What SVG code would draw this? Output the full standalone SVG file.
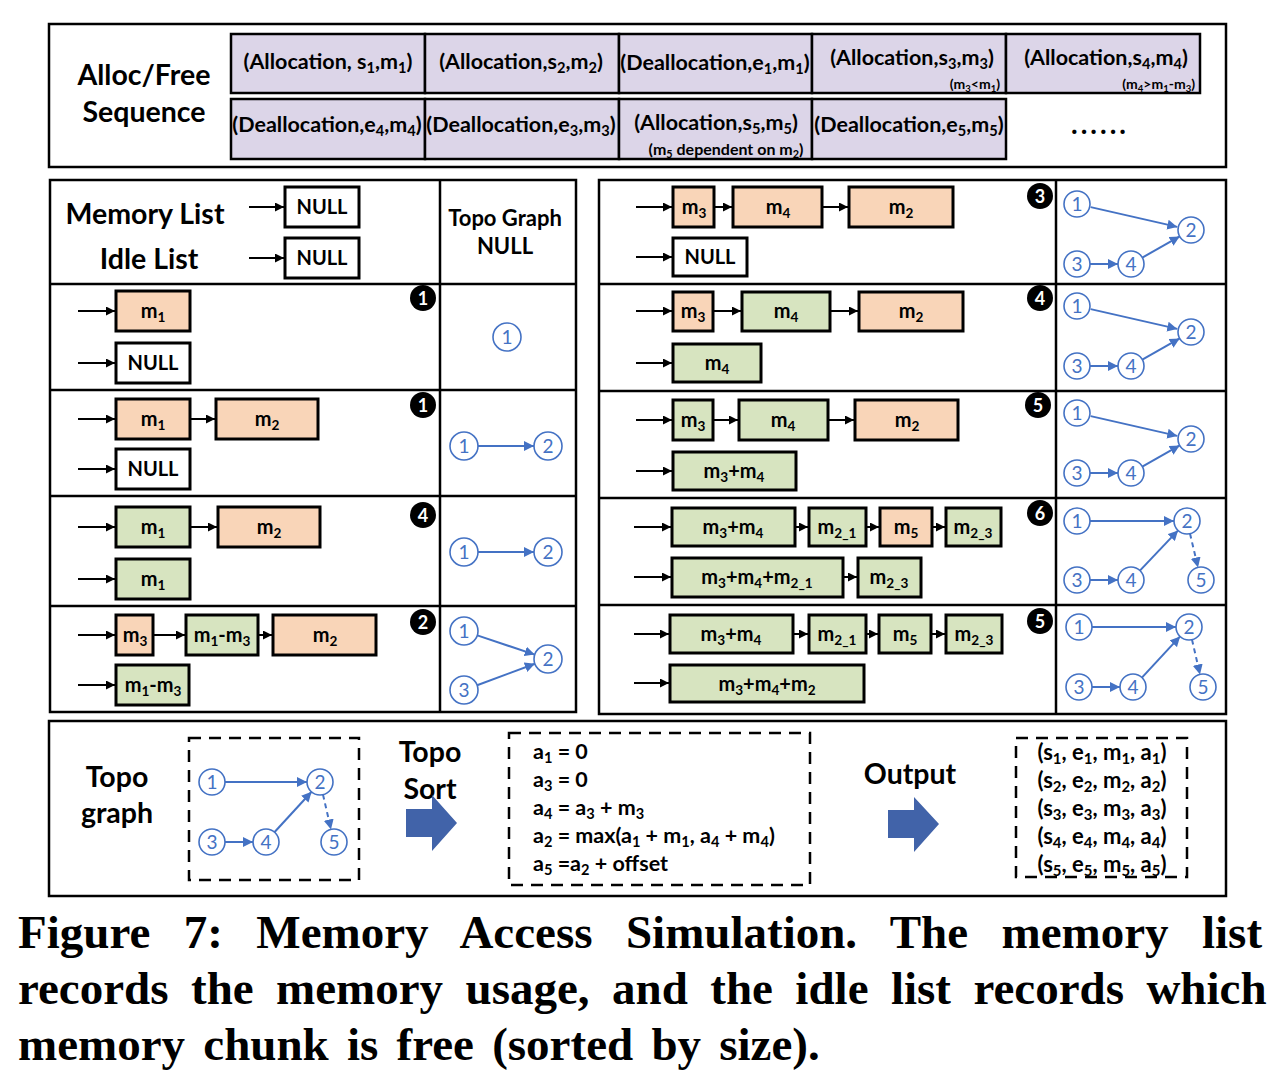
<svg xmlns="http://www.w3.org/2000/svg" width="1280" height="1078" viewBox="0 0 1280 1078">
<style>
.t{font-family:Lato,"Open Sans",sans-serif;font-weight:bold;fill:#000}
.seq{font-size:21.5px;text-anchor:middle}
.note{font-size:14px;text-anchor:end}
.s{font-size:68%}
.cell{fill:#DCD5E8;stroke:#000;stroke-width:2.5}
.frame{fill:none;stroke:#000;stroke-width:2.5}
.div{stroke:#000;stroke-width:2.5}
.box{stroke:#000;stroke-width:3}
.or{fill:#F9D5B8}.gr{fill:#D7E4C0}.wh{fill:#fff}
.lbl{font-size:20px;text-anchor:middle}
.big{font-size:28.5px;text-anchor:middle}
.ar{stroke:#000;stroke-width:2;marker-end:url(#ah)}
.gn{fill:#fff;stroke:#4472C4;stroke-width:1.6}
.gt{font-family:Lato,"Open Sans",sans-serif;font-size:19px;fill:#4472C4;text-anchor:middle}
.ge{stroke:#4472C4;stroke-width:2;fill:none;marker-end:url(#bh)}
.gd{stroke-dasharray:5 4}
.bc{fill:#000}
.bt{font-family:Lato,sans-serif;font-weight:bold;font-size:18px;fill:#fff;text-anchor:middle}
.dash{fill:none;stroke:#000;stroke-width:2.5;stroke-dasharray:12 8}
.blk{fill:#4163A9}
.eq{font-size:21.5px}
.cap{font-family:"Liberation Serif","Times New Roman",serif;font-weight:bold;font-size:47px;fill:#000}
</style>
<defs>
<marker id="ah" viewBox="0 0 10 10" refX="10" refY="5" markerWidth="9" markerHeight="9" markerUnits="userSpaceOnUse" orient="auto"><path d="M0,0L10,5L0,10z" fill="#000"/></marker>
<marker id="bh" viewBox="0 0 10 10" refX="10" refY="5" markerWidth="10" markerHeight="10" markerUnits="userSpaceOnUse" orient="auto"><path d="M0,0L10,5L0,10z" fill="#4472C4"/></marker>
</defs>
<rect width="1280" height="1078" fill="#fff"/>

<!-- Top: Alloc/Free sequence -->
<g id="sequence">
<rect class="frame" x="49" y="24" width="1177" height="143"/>
<text class="t big" x="144" y="85">Alloc/Free</text>
<text class="t big" x="144" y="122">Sequence</text>
<g id="seq1"><rect class="cell" x="231" y="34" width="194" height="59"/><text class="t seq" x="328" y="69">(Allocation, s<tspan class="s" dy="4">1</tspan><tspan dy="-4">,m</tspan><tspan class="s" dy="4">1</tspan><tspan dy="-4">)</tspan></text></g>
<g id="seq2"><rect class="cell" x="425" y="34" width="194" height="59"/><text class="t seq" x="521" y="69">(Allocation,s<tspan class="s" dy="4">2</tspan><tspan dy="-4">,m</tspan><tspan class="s" dy="4">2</tspan><tspan dy="-4">)</tspan></text></g>
<g id="seq3"><rect class="cell" x="619" y="34" width="193" height="59"/><text class="t seq" x="715" y="70">(Deallocation,e<tspan class="s" dy="4">1</tspan><tspan dy="-4">,m</tspan><tspan class="s" dy="4">1</tspan><tspan dy="-4">)</tspan></text></g>
<g id="seq4"><rect class="cell" x="812" y="34" width="194" height="59"/><text class="t seq" x="912" y="65">(Allocation,s<tspan class="s" dy="4">3</tspan><tspan dy="-4">,m</tspan><tspan class="s" dy="4">3</tspan><tspan dy="-4">)</tspan></text><text class="t note" x="1000" y="89">(m<tspan class="s" dy="3">3</tspan><tspan dy="-3">&lt;m</tspan><tspan class="s" dy="3">1</tspan><tspan dy="-3">)</tspan></text></g>
<g id="seq5"><rect class="cell" x="1006" y="34" width="194" height="59"/><text class="t seq" x="1106" y="65">(Allocation,s<tspan class="s" dy="4">4</tspan><tspan dy="-4">,m</tspan><tspan class="s" dy="4">4</tspan><tspan dy="-4">)</tspan></text><text class="t note" x="1195" y="89">(m<tspan class="s" dy="3">4</tspan><tspan dy="-3">&gt;m</tspan><tspan class="s" dy="3">1</tspan><tspan dy="-3">-m</tspan><tspan class="s" dy="3">3</tspan><tspan dy="-3">)</tspan></text></g>
<g id="seq6"><rect class="cell" x="231" y="99" width="194" height="60"/><text class="t seq" x="327" y="132">(Deallocation,e<tspan class="s" dy="4">4</tspan><tspan dy="-4">,m</tspan><tspan class="s" dy="4">4</tspan><tspan dy="-4">)</tspan></text></g>
<g id="seq7"><rect class="cell" x="425" y="99" width="194" height="60"/><text class="t seq" x="521" y="132">(Deallocation,e<tspan class="s" dy="4">3</tspan><tspan dy="-4">,m</tspan><tspan class="s" dy="4">3</tspan><tspan dy="-4">)</tspan></text></g>
<g id="seq8"><rect class="cell" x="619" y="99" width="193" height="60"/><text class="t seq" x="716" y="130">(Allocation,s<tspan class="s" dy="4">5</tspan><tspan dy="-4">,m</tspan><tspan class="s" dy="4">5</tspan><tspan dy="-4">)</tspan></text><text class="t" font-size="16" text-anchor="middle" x="726" y="155">(m<tspan class="s" dy="3">5</tspan><tspan dy="-3"> dependent on m</tspan><tspan class="s" dy="3">2</tspan><tspan dy="-3">)</tspan></text></g>
<g id="seq9"><rect class="cell" x="812" y="99" width="194" height="60"/><text class="t seq" x="909" y="132">(Deallocation,e<tspan class="s" dy="4">5</tspan><tspan dy="-4">,m</tspan><tspan class="s" dy="4">5</tspan><tspan dy="-4">)</tspan></text></g>
<text class="t" font-size="28" letter-spacing="3" text-anchor="middle" x="1100" y="134">......</text>
</g>

<!-- Left panel frame -->
<g id="left-panel">
<rect class="frame" x="50" y="180" width="526" height="532"/>
<line class="div" x1="440" y1="180" x2="440" y2="712"/>
<line class="div" x1="50" y1="284" x2="576" y2="284"/>
<line class="div" x1="50" y1="390" x2="576" y2="390"/>
<line class="div" x1="50" y1="496" x2="576" y2="496"/>
<line class="div" x1="50" y1="606" x2="576" y2="606"/>
<text class="t big" x="145" y="224">Memory List</text>
<text class="t big" x="149" y="269">Idle List</text>
<text class="t" font-size="22" text-anchor="middle" x="505" y="226">Topo Graph</text>
<text class="t" font-size="22" text-anchor="middle" x="505" y="254">NULL</text>
</g>

<!-- Right panel frame -->
<g id="right-panel">
<rect class="frame" x="599" y="180" width="627" height="534"/>
<line class="div" x1="1056" y1="180" x2="1056" y2="714"/>
<line class="div" x1="599" y1="284" x2="1226" y2="284"/>
<line class="div" x1="599" y1="391" x2="1226" y2="391"/>
<line class="div" x1="599" y1="498" x2="1226" y2="498"/>
<line class="div" x1="599" y1="605" x2="1226" y2="605"/>
</g>

<!-- Connectors (list pointers) -->
<g id="connectors">
<line class="ar" x1="249" y1="207" x2="284" y2="207"/>
<line class="ar" x1="249" y1="258" x2="284" y2="258"/>
<line class="ar" x1="78" y1="311" x2="115" y2="311"/>
<line class="ar" x1="78" y1="363" x2="115" y2="363"/>
<line class="ar" x1="78" y1="419" x2="115" y2="419"/>
<line class="ar" x1="190" y1="419" x2="215" y2="419"/>
<line class="ar" x1="78" y1="469" x2="115" y2="469"/>
<line class="ar" x1="78" y1="527" x2="115" y2="527"/>
<line class="ar" x1="190" y1="527" x2="217" y2="527"/>
<line class="ar" x1="78" y1="579" x2="115" y2="579"/>
<line class="ar" x1="78" y1="635" x2="115" y2="635"/>
<line class="ar" x1="153" y1="635" x2="185" y2="635"/>
<line class="ar" x1="258" y1="635" x2="272" y2="635"/>
<line class="ar" x1="78" y1="685" x2="115" y2="685"/>
<line class="ar" x1="636" y1="207" x2="672" y2="207"/>
<line class="ar" x1="714" y1="207" x2="732" y2="207"/>
<line class="ar" x1="822" y1="207" x2="848" y2="207"/>
<line class="ar" x1="636" y1="257" x2="672" y2="257"/>
<line class="ar" x1="636" y1="311" x2="672" y2="311"/>
<line class="ar" x1="713" y1="311" x2="741" y2="311"/>
<line class="ar" x1="830" y1="311" x2="858" y2="311"/>
<line class="ar" x1="636" y1="363" x2="672" y2="363"/>
<line class="ar" x1="636" y1="420" x2="672" y2="420"/>
<line class="ar" x1="713" y1="420" x2="738" y2="420"/>
<line class="ar" x1="828" y1="420" x2="854" y2="420"/>
<line class="ar" x1="636" y1="471" x2="672" y2="471"/>
<line class="ar" x1="634" y1="527" x2="671" y2="527"/>
<line class="ar" x1="795" y1="527" x2="808" y2="527"/>
<line class="ar" x1="866" y1="527" x2="879" y2="527"/>
<line class="ar" x1="932" y1="527" x2="945" y2="527"/>
<line class="ar" x1="634" y1="577" x2="671" y2="577"/>
<line class="ar" x1="843" y1="577" x2="857" y2="577"/>
<line class="ar" x1="634" y1="634" x2="669" y2="634"/>
<line class="ar" x1="793" y1="634" x2="808" y2="634"/>
<line class="ar" x1="866" y1="634" x2="878" y2="634"/>
<line class="ar" x1="931" y1="634" x2="945" y2="634"/>
<line class="ar" x1="634" y1="683" x2="669" y2="683"/>
</g>

<!-- Header NULL boxes -->
<g id="mem-null"><rect class="box wh" x="285" y="187" width="74" height="40"/><text class="t lbl" x="322" y="214">NULL</text></g>
<g id="idle-null"><rect class="box wh" x="285" y="238" width="74" height="40"/><text class="t lbl" x="322" y="265">NULL</text></g>

<!-- Left row 1 -->
<g id="L1-m1"><rect class="box or" x="116" y="291" width="74" height="40"/><text class="t lbl" x="153" y="318">m<tspan class="s" dy="4">1</tspan></text></g>
<g id="L1-null"><rect class="box wh" x="116" y="343" width="74" height="40"/><text class="t lbl" x="153" y="370">NULL</text></g>
<!-- Left row 2 -->
<g id="L2-m1"><rect class="box or" x="116" y="399" width="74" height="40"/><text class="t lbl" x="153" y="426">m<tspan class="s" dy="4">1</tspan></text></g>
<g id="L2-m2"><rect class="box or" x="216" y="399" width="102" height="40"/><text class="t lbl" x="267" y="426">m<tspan class="s" dy="4">2</tspan></text></g>
<g id="L2-null"><rect class="box wh" x="116" y="449" width="74" height="40"/><text class="t lbl" x="153" y="476">NULL</text></g>
<!-- Left row 3 -->
<g id="L3-m1"><rect class="box gr" x="116" y="507" width="74" height="40"/><text class="t lbl" x="153" y="534">m<tspan class="s" dy="4">1</tspan></text></g>
<g id="L3-m2"><rect class="box or" x="218" y="507" width="102" height="40"/><text class="t lbl" x="269" y="534">m<tspan class="s" dy="4">2</tspan></text></g>
<g id="L3-idle"><rect class="box gr" x="116" y="559" width="74" height="40"/><text class="t lbl" x="153" y="586">m<tspan class="s" dy="4">1</tspan></text></g>
<!-- Left row 4 -->
<g id="L4-m3"><rect class="box or" x="116" y="615" width="37" height="40"/><text class="t lbl" x="135" y="642">m<tspan class="s" dy="4">3</tspan></text></g>
<g id="L4-m1m3"><rect class="box gr" x="186" y="615" width="72" height="40"/><text class="t lbl" x="222" y="642">m<tspan class="s" dy="4">1</tspan><tspan dy="-4">-m</tspan><tspan class="s" dy="4">3</tspan></text></g>
<g id="L4-m2"><rect class="box or" x="273" y="615" width="103" height="40"/><text class="t lbl" x="325" y="642">m<tspan class="s" dy="4">2</tspan></text></g>
<g id="L4-idle"><rect class="box gr" x="116" y="665" width="73" height="40"/><text class="t lbl" x="153" y="692">m<tspan class="s" dy="4">1</tspan><tspan dy="-4">-m</tspan><tspan class="s" dy="4">3</tspan></text></g>

<!-- Right row A -->
<g id="RA-m3"><rect class="box or" x="673" y="187" width="41" height="40"/><text class="t lbl" x="694" y="214">m<tspan class="s" dy="4">3</tspan></text></g>
<g id="RA-m4"><rect class="box or" x="733" y="187" width="89" height="40"/><text class="t lbl" x="778" y="214">m<tspan class="s" dy="4">4</tspan></text></g>
<g id="RA-m2"><rect class="box or" x="849" y="187" width="104" height="40"/><text class="t lbl" x="901" y="214">m<tspan class="s" dy="4">2</tspan></text></g>
<g id="RA-null"><rect class="box wh" x="673" y="238" width="74" height="38"/><text class="t lbl" x="710" y="264">NULL</text></g>
<!-- Right row B -->
<g id="RB-m3"><rect class="box or" x="673" y="292" width="40" height="39"/><text class="t lbl" x="693" y="318">m<tspan class="s" dy="4">3</tspan></text></g>
<g id="RB-m4"><rect class="box gr" x="742" y="292" width="88" height="39"/><text class="t lbl" x="786" y="318">m<tspan class="s" dy="4">4</tspan></text></g>
<g id="RB-m2"><rect class="box or" x="859" y="292" width="104" height="39"/><text class="t lbl" x="911" y="318">m<tspan class="s" dy="4">2</tspan></text></g>
<g id="RB-idle"><rect class="box gr" x="673" y="344" width="88" height="38"/><text class="t lbl" x="717" y="370">m<tspan class="s" dy="4">4</tspan></text></g>
<!-- Right row C -->
<g id="RC-m3"><rect class="box gr" x="673" y="400" width="40" height="40"/><text class="t lbl" x="693" y="427">m<tspan class="s" dy="4">3</tspan></text></g>
<g id="RC-m4"><rect class="box gr" x="739" y="400" width="89" height="40"/><text class="t lbl" x="783" y="427">m<tspan class="s" dy="4">4</tspan></text></g>
<g id="RC-m2"><rect class="box or" x="855" y="400" width="103" height="40"/><text class="t lbl" x="907" y="427">m<tspan class="s" dy="4">2</tspan></text></g>
<g id="RC-idle"><rect class="box gr" x="673" y="452" width="123" height="38"/><text class="t lbl" x="734" y="478">m<tspan class="s" dy="4">3</tspan><tspan dy="-4">+m</tspan><tspan class="s" dy="4">4</tspan></text></g>
<!-- Right row D -->
<g id="RD-m34"><rect class="box gr" x="672" y="508" width="123" height="38"/><text class="t lbl" x="733" y="534">m<tspan class="s" dy="4">3</tspan><tspan dy="-4">+m</tspan><tspan class="s" dy="4">4</tspan></text></g>
<g id="RD-m21"><rect class="box gr" x="809" y="508" width="57" height="38"/><text class="t lbl" x="837" y="534">m<tspan class="s" dy="4">2_1</tspan></text></g>
<g id="RD-m5"><rect class="box or" x="880" y="508" width="52" height="38"/><text class="t lbl" x="906" y="534">m<tspan class="s" dy="4">5</tspan></text></g>
<g id="RD-m23"><rect class="box gr" x="946" y="508" width="55" height="38"/><text class="t lbl" x="973" y="534">m<tspan class="s" dy="4">2_3</tspan></text></g>
<g id="RD-idle1"><rect class="box gr" x="672" y="558" width="171" height="39"/><text class="t lbl" x="757" y="584">m<tspan class="s" dy="4">3</tspan><tspan dy="-4">+m</tspan><tspan class="s" dy="4">4</tspan><tspan dy="-4">+m</tspan><tspan class="s" dy="4">2_1</tspan></text></g>
<g id="RD-idle2"><rect class="box gr" x="858" y="558" width="63" height="39"/><text class="t lbl" x="889" y="584">m<tspan class="s" dy="4">2_3</tspan></text></g>
<!-- Right row E -->
<g id="RE-m34"><rect class="box gr" x="670" y="615" width="123" height="38"/><text class="t lbl" x="731" y="641">m<tspan class="s" dy="4">3</tspan><tspan dy="-4">+m</tspan><tspan class="s" dy="4">4</tspan></text></g>
<g id="RE-m21"><rect class="box gr" x="809" y="615" width="57" height="38"/><text class="t lbl" x="837" y="641">m<tspan class="s" dy="4">2_1</tspan></text></g>
<g id="RE-m5"><rect class="box gr" x="879" y="615" width="52" height="38"/><text class="t lbl" x="905" y="641">m<tspan class="s" dy="4">5</tspan></text></g>
<g id="RE-m23"><rect class="box gr" x="946" y="615" width="56" height="38"/><text class="t lbl" x="974" y="641">m<tspan class="s" dy="4">2_3</tspan></text></g>
<g id="RE-idle"><rect class="box gr" x="670" y="665" width="194" height="37"/><text class="t lbl" x="767" y="691">m<tspan class="s" dy="4">3</tspan><tspan dy="-4">+m</tspan><tspan class="s" dy="4">4</tspan><tspan dy="-4">+m</tspan><tspan class="s" dy="4">2</tspan></text></g>

<!-- Badges -->
<g id="badges">
<circle class="bc" cx="423" cy="298" r="13"/><text class="bt" x="423" y="305">1</text>
<circle class="bc" cx="423" cy="405" r="13"/><text class="bt" x="423" y="412">1</text>
<circle class="bc" cx="423" cy="515" r="13"/><text class="bt" x="423" y="522">4</text>
<circle class="bc" cx="423" cy="622" r="13"/><text class="bt" x="423" y="629">2</text>
<circle class="bc" cx="1040" cy="196" r="13"/><text class="bt" x="1040" y="203">3</text>
<circle class="bc" cx="1040" cy="298" r="13"/><text class="bt" x="1040" y="305">4</text>
<circle class="bc" cx="1038" cy="405" r="13"/><text class="bt" x="1038" y="412">5</text>
<circle class="bc" cx="1040" cy="513" r="13"/><text class="bt" x="1040" y="520">6</text>
<circle class="bc" cx="1040" cy="621" r="13"/><text class="bt" x="1040" y="628">5</text>
</g>

<!-- Topo graphs (left) -->
<g id="TG-L1"><circle class="gn" cx="507" cy="337" r="14"/><text class="gt" x="507" y="344">1</text></g>
<g id="TG-L2">
<line class="ge" x1="478" y1="446" x2="534" y2="446"/>
<circle class="gn" cx="464" cy="446" r="14"/><text class="gt" x="464" y="453">1</text>
<circle class="gn" cx="548" cy="446" r="14"/><text class="gt" x="548" y="453">2</text>
</g>
<g id="TG-L3">
<line class="ge" x1="478" y1="552" x2="534" y2="552"/>
<circle class="gn" cx="464" cy="552" r="14"/><text class="gt" x="464" y="559">1</text>
<circle class="gn" cx="548" cy="552" r="14"/><text class="gt" x="548" y="559">2</text>
</g>
<g id="TG-L4">
<line class="ge" x1="477.3" y1="635.4" x2="534.7" y2="654.6"/>
<line class="ge" x1="477.1" y1="685.2" x2="534.9" y2="663.8"/>
<circle class="gn" cx="464" cy="631" r="14"/><text class="gt" x="464" y="638">1</text>
<circle class="gn" cx="464" cy="690" r="14"/><text class="gt" x="464" y="697">3</text>
<circle class="gn" cx="548" cy="659" r="14"/><text class="gt" x="548" y="666">2</text>
</g>

<!-- Topo graphs (right) 4 nodes -->
<g id="TG-RA" transform="translate(1077,204)">
<line class="ge" x1="13.7" y1="3.1" x2="100.3" y2="22.9"/>
<line class="ge" x1="13" y1="60" x2="41" y2="60"/>
<line class="ge" x1="65.3" y1="53.6" x2="102.7" y2="32.4"/>
<circle class="gn" cx="0" cy="0" r="13"/><text class="gt" x="0" y="7">1</text>
<circle class="gn" cx="114" cy="26" r="13"/><text class="gt" x="114" y="33">2</text>
<circle class="gn" cx="0" cy="60" r="13"/><text class="gt" x="0" y="67">3</text>
<circle class="gn" cx="54" cy="60" r="13"/><text class="gt" x="54" y="67">4</text>
</g>
<g id="TG-RB" transform="translate(1077,306)">
<line class="ge" x1="13.7" y1="3.1" x2="100.3" y2="22.9"/>
<line class="ge" x1="13" y1="60" x2="41" y2="60"/>
<line class="ge" x1="65.3" y1="53.6" x2="102.7" y2="32.4"/>
<circle class="gn" cx="0" cy="0" r="13"/><text class="gt" x="0" y="7">1</text>
<circle class="gn" cx="114" cy="26" r="13"/><text class="gt" x="114" y="33">2</text>
<circle class="gn" cx="0" cy="60" r="13"/><text class="gt" x="0" y="67">3</text>
<circle class="gn" cx="54" cy="60" r="13"/><text class="gt" x="54" y="67">4</text>
</g>
<g id="TG-RC" transform="translate(1077,413)">
<line class="ge" x1="13.7" y1="3.1" x2="100.3" y2="22.9"/>
<line class="ge" x1="13" y1="60" x2="41" y2="60"/>
<line class="ge" x1="65.3" y1="53.6" x2="102.7" y2="32.4"/>
<circle class="gn" cx="0" cy="0" r="13"/><text class="gt" x="0" y="7">1</text>
<circle class="gn" cx="114" cy="26" r="13"/><text class="gt" x="114" y="33">2</text>
<circle class="gn" cx="0" cy="60" r="13"/><text class="gt" x="0" y="67">3</text>
<circle class="gn" cx="54" cy="60" r="13"/><text class="gt" x="54" y="67">4</text>
</g>
<!-- 5 nodes -->
<g id="TG-RD" transform="translate(1077,521)">
<line class="ge" x1="13" y1="0" x2="97" y2="0"/>
<line class="ge" x1="13" y1="59" x2="41" y2="59"/>
<line class="ge" x1="62.9" y1="49.6" x2="101.1" y2="9.4"/>
<line class="ge gd" x1="113" y1="12.6" x2="121" y2="46.4"/>
<circle class="gn" cx="0" cy="0" r="13"/><text class="gt" x="0" y="7">1</text>
<circle class="gn" cx="110" cy="0" r="13"/><text class="gt" x="110" y="7">2</text>
<circle class="gn" cx="0" cy="59" r="13"/><text class="gt" x="0" y="66">3</text>
<circle class="gn" cx="54" cy="59" r="13"/><text class="gt" x="54" y="66">4</text>
<circle class="gn" cx="124" cy="59" r="13"/><text class="gt" x="124" y="66">5</text>
</g>
<g id="TG-RE" transform="translate(1079,627)">
<line class="ge" x1="13" y1="0" x2="97" y2="0"/>
<line class="ge" x1="13" y1="60" x2="41" y2="60"/>
<line class="ge" x1="62.9" y1="50.6" x2="101.1" y2="9.4"/>
<line class="ge gd" x1="113" y1="12.6" x2="121" y2="47.4"/>
<circle class="gn" cx="0" cy="0" r="13"/><text class="gt" x="0" y="7">1</text>
<circle class="gn" cx="110" cy="0" r="13"/><text class="gt" x="110" y="7">2</text>
<circle class="gn" cx="0" cy="60" r="13"/><text class="gt" x="0" y="67">3</text>
<circle class="gn" cx="54" cy="60" r="13"/><text class="gt" x="54" y="67">4</text>
<circle class="gn" cx="124" cy="60" r="13"/><text class="gt" x="124" y="67">5</text>
</g>

<!-- Bottom section -->
<g id="bottom">
<rect class="frame" x="49" y="721" width="1177" height="175"/>
<text class="t big" x="117" y="787">Topo</text>
<text class="t big" x="117" y="823">graph</text>
<rect class="dash" x="189" y="738" width="170" height="142"/>
<g id="TG-final" transform="translate(212,782)">
<line class="ge" x1="13" y1="0" x2="95" y2="0"/>
<line class="ge" x1="13" y1="60" x2="41" y2="60"/>
<line class="ge" x1="62.4" y1="50.2" x2="99.6" y2="9.8"/>
<line class="ge gd" x1="111" y1="12.6" x2="119" y2="47.4"/>
<circle class="gn" cx="0" cy="0" r="13"/><text class="gt" x="0" y="7">1</text>
<circle class="gn" cx="108" cy="0" r="13"/><text class="gt" x="108" y="7">2</text>
<circle class="gn" cx="0" cy="60" r="13"/><text class="gt" x="0" y="67">3</text>
<circle class="gn" cx="54" cy="60" r="13"/><text class="gt" x="54" y="67">4</text>
<circle class="gn" cx="122" cy="60" r="13"/><text class="gt" x="122" y="67">5</text>
</g>
<text class="t big" x="430" y="762">Topo</text>
<text class="t big" x="430" y="799">Sort</text>
<polygon class="blk" points="406,809 432,809 432,795 457,823 432,851 432,837 406,837"/>
<rect class="dash" x="509" y="733" width="301" height="152"/>
<g class="t eq">
<text x="533" y="759">a<tspan class="s" dy="4">1</tspan><tspan dy="-4"> = 0</tspan></text>
<text x="533" y="787">a<tspan class="s" dy="4">3</tspan><tspan dy="-4"> = 0</tspan></text>
<text x="533" y="815">a<tspan class="s" dy="4">4</tspan><tspan dy="-4"> = a</tspan><tspan class="s" dy="4">3</tspan><tspan dy="-4"> + m</tspan><tspan class="s" dy="4">3</tspan></text>
<text x="533" y="843">a<tspan class="s" dy="4">2</tspan><tspan dy="-4"> = max(a</tspan><tspan class="s" dy="4">1</tspan><tspan dy="-4"> + m</tspan><tspan class="s" dy="4">1</tspan><tspan dy="-4">, a</tspan><tspan class="s" dy="4">4</tspan><tspan dy="-4"> + m</tspan><tspan class="s" dy="4">4</tspan><tspan dy="-4">)</tspan></text>
<text x="533" y="871">a<tspan class="s" dy="4">5</tspan><tspan dy="-4"> =a</tspan><tspan class="s" dy="4">2</tspan><tspan dy="-4"> + offset</tspan></text>
</g>
<text class="t big" x="910" y="784">Output</text>
<polygon class="blk" points="888,810 914,810 914,797 939,824 914,852 914,838 888,838"/>
<rect class="dash" x="1016" y="738" width="171" height="139"/>
<g class="t" font-size="22" text-anchor="middle">
<text x="1102" y="760">(s<tspan class="s" dy="4">1</tspan><tspan dy="-4">, e</tspan><tspan class="s" dy="4">1</tspan><tspan dy="-4">, m</tspan><tspan class="s" dy="4">1</tspan><tspan dy="-4">, a</tspan><tspan class="s" dy="4">1</tspan><tspan dy="-4">)</tspan></text>
<text x="1102" y="788">(s<tspan class="s" dy="4">2</tspan><tspan dy="-4">, e</tspan><tspan class="s" dy="4">2</tspan><tspan dy="-4">, m</tspan><tspan class="s" dy="4">2</tspan><tspan dy="-4">, a</tspan><tspan class="s" dy="4">2</tspan><tspan dy="-4">)</tspan></text>
<text x="1102" y="816">(s<tspan class="s" dy="4">3</tspan><tspan dy="-4">, e</tspan><tspan class="s" dy="4">3</tspan><tspan dy="-4">, m</tspan><tspan class="s" dy="4">3</tspan><tspan dy="-4">, a</tspan><tspan class="s" dy="4">3</tspan><tspan dy="-4">)</tspan></text>
<text x="1102" y="844">(s<tspan class="s" dy="4">4</tspan><tspan dy="-4">, e</tspan><tspan class="s" dy="4">4</tspan><tspan dy="-4">, m</tspan><tspan class="s" dy="4">4</tspan><tspan dy="-4">, a</tspan><tspan class="s" dy="4">4</tspan><tspan dy="-4">)</tspan></text>
<text x="1102" y="872">(s<tspan class="s" dy="4">5</tspan><tspan dy="-4">, e</tspan><tspan class="s" dy="4">5</tspan><tspan dy="-4">, m</tspan><tspan class="s" dy="4">5</tspan><tspan dy="-4">, a</tspan><tspan class="s" dy="4">5</tspan><tspan dy="-4">)</tspan></text>
</g>
</g>

<!-- Caption -->
<g id="caption">
<text class="cap" x="18" y="948" word-spacing="21.7">Figure 7: Memory Access Simulation. The memory list</text>
<text class="cap" x="18" y="1004" word-spacing="10.7">records the memory usage, and the idle list records which</text>
<text class="cap" x="18" y="1060" word-spacing="6.5">memory chunk is free (sorted by size).</text>
</g>
</svg>
